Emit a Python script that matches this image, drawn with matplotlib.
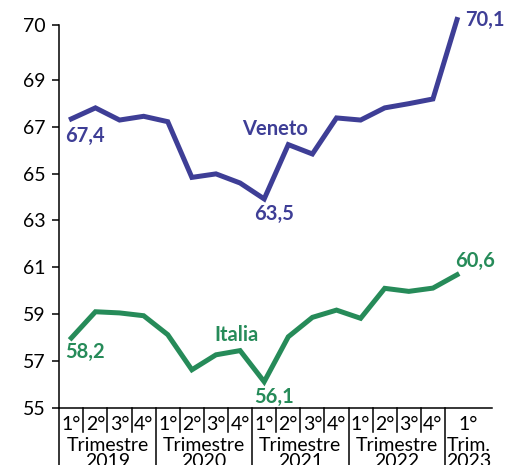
import numpy as np
import matplotlib
matplotlib.use("Agg")
import matplotlib.pyplot as plt
import matplotlib.transforms as mtransforms

plt.rcParams['font.family'] = ['Lato', 'DejaVu Sans']

# Data (tasso di occupazione)
quarters = ["1°", "2°", "3°", "4°"] * 4 + ["1°"]
years = ["Trimestre\n2019", "Trimestre\n2020", "Trimestre\n2021", "Trimestre\n2022", "Trim.\n2023"]
veneto = [67.34, 67.81, 67.29, 67.45, 67.22, 64.84, 64.99, 64.60, 63.92,
          66.24, 65.84, 67.38, 67.29, 67.81, 67.99, 68.19, 70.1]
italia = [57.98, 59.10, 59.05, 58.93, 58.12, 56.62, 57.26, 57.44, 56.11,
          58.03, 58.86, 59.17, 58.82, 60.10, 59.97, 60.11, 60.68]
yticks = [55, 57, 59, 61, 63, 65, 67, 69, 70]

c_ven = "#3E3E96"
c_ita = "#268B59"

# axis is stretched above 69 in the original chart
k = 2.35
def fwd(y):
    y = np.asarray(y, dtype=float)
    return np.where(y <= 69, y, 69 + (y - 69) * k)
def inv(y):
    y = np.asarray(y, dtype=float)
    return np.where(y <= 69, y, 69 + (y - 69) / k)

fig = plt.figure(figsize=(5.08, 4.65), dpi=100)
ax = fig.add_axes([0.1167, 0.1232, 0.8513, 0.8230])
ax.set_yscale('function', functions=(fwd, inv))

x = np.arange(len(veneto))
ax.plot(x, veneto, color=c_ven, lw=3.6, clip_on=False, solid_joinstyle='miter')
ax.plot(x, italia, color=c_ita, lw=3.6, clip_on=False, solid_joinstyle='miter')

ax.set_xlim(-0.5, 17.44)
ax.set_ylim(55, 70)
ax.set_yticks(yticks)
ax.set_yticklabels([str(t) for t in yticks], fontsize=14)
ax.tick_params(axis='y', length=5, width=1.1, pad=5)
ax.set_xticks([])
for s in ['top', 'right']:
    ax.spines[s].set_visible(False)
for s in ['left', 'bottom']:
    ax.spines[s].set_linewidth(1.1)

# category axis below the plot
trans = mtransforms.blended_transform_factory(ax.transData, ax.transAxes)
ax.plot([-0.5, -0.5], [0, -0.2], color='black', lw=1.1, transform=trans, clip_on=False)
for i, q in enumerate(quarters):
    xq = i if i < 16 else 16.47
    ax.text(xq, -0.0217, q, transform=trans, ha='center', va='top', fontsize=14)
    if i < 16 and i % 4 != 3:
        ax.plot([i + 0.5, i + 0.5], [0, -0.0635], color='black', lw=1.1,
                transform=trans, clip_on=False)
for j, yl in enumerate(years):
    if j < 4:
        xc = j * 4 + 1.5
        ax.plot([j * 4 + 3.5] * 2, [0, -0.2], color='black', lw=1.1,
                transform=trans, clip_on=False)
    else:
        xc = 16.47
    ax.text(xc, -0.0766, yl, transform=trans, ha='center', va='top',
            fontsize=14, linespacing=0.95)

# value labels
lab = dict(fontsize=14.5, fontweight='bold', textcoords='offset pixels', va='baseline')
ax.annotate("67,4", (0, veneto[0]), xytext=(-6, -23), color=c_ven, ha='left', **lab)
ax.annotate("63,5", (8, veneto[8]), xytext=(10, -21), color=c_ven, ha='center', **lab)
ax.annotate("70,1", (16, veneto[16]), xytext=(8, -6), color=c_ven, ha='left',
            annotation_clip=False, **lab)
ax.annotate("58,2", (0, italia[0]), xytext=(-6, -20), color=c_ita, ha='left', **lab)
ax.annotate("56,1", (8, italia[8]), xytext=(10, -21), color=c_ita, ha='center', **lab)
ax.annotate("60,6", (16, italia[16]), xytext=(-2, 8), color=c_ita, ha='left', **lab)
ax.text(8.43, 66.65, "Veneto", color=c_ven, fontsize=14.5, fontweight='bold',
        ha='center', va='baseline')
ax.text(6.85, 57.85, "Italia", color=c_ita, fontsize=14.5, fontweight='bold',
        ha='center', va='baseline')

fig.savefig("out.png", dpi=100)
